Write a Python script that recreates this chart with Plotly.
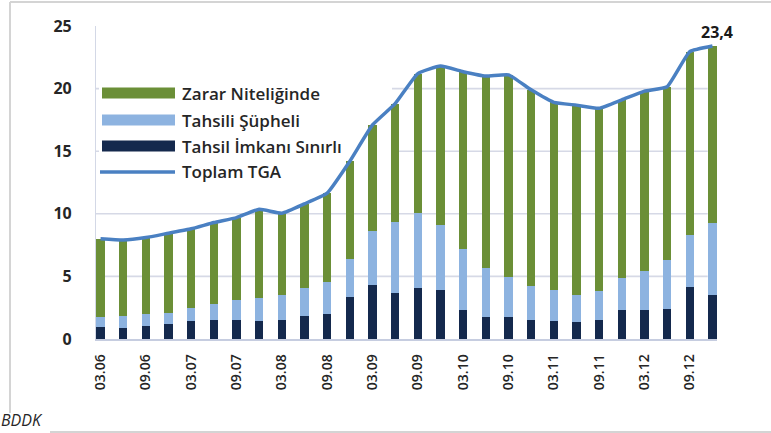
import plotly.graph_objects as go

# Quarters (MM.YY)
quarters = ["03.06", "06.06", "09.06", "12.06", "03.07", "06.07", "09.07", "12.07",
            "03.08", "06.08", "09.08", "12.08", "03.09", "06.09", "09.09", "12.09",
            "03.10", "06.10", "09.10", "12.10", "03.11", "06.11", "09.11", "12.11",
            "03.12", "06.12", "09.12", "12.12"]

# Tahsil İmkanı Sınırlı (dark)
tahsil_imkani = [0.93, 0.85, 1.02, 1.22, 1.41, 1.51, 1.54, 1.41,
                 1.54, 1.80, 2.00, 3.32, 4.30, 3.67, 4.06, 3.93,
                 2.28, 1.75, 1.75, 1.54, 1.41, 1.33, 1.49, 2.34,
                 2.29, 2.42, 4.12, 3.54]
# Tahsili Şüpheli (light blue)
tahsili_supheli = [0.82, 0.95, 0.98, 0.85, 1.03, 1.28, 1.54, 1.86,
                   1.96, 2.26, 2.54, 3.05, 4.33, 5.70, 5.98, 5.18,
                   4.92, 3.95, 3.19, 2.71, 2.47, 2.21, 2.31, 2.53,
                   3.11, 3.86, 4.15, 5.72]
# Zarar Niteliğinde (green)
zarar = [6.25, 6.10, 6.10, 6.38, 6.36, 6.51, 6.62, 7.09,
         6.55, 6.74, 7.11, 7.83, 8.47, 9.43, 11.16, 12.69,
         14.15, 15.30, 16.16, 15.65, 15.02, 15.14, 14.63, 14.23,
         14.40, 13.87, 14.68, 14.14]
# Toplam TGA (line)
toplam = [8.00, 7.90, 8.10, 8.45, 8.80, 9.30, 9.70, 10.36,
          10.05, 10.80, 11.65, 14.20, 17.10, 18.80, 21.20, 21.80,
          21.35, 21.00, 21.10, 19.90, 18.90, 18.68, 18.43, 19.10,
          19.80, 20.15, 22.95, 23.40]

tick_labels = quarters[::2]
y_ticks = [0, 5, 10, 15, 20, 25]
grid_vals = [5, 10, 15, 20]
last_label = "23,4"

C_DARK = "#14294d"
C_LIGHT = "#8db3e0"
C_GREEN = "#6b8f37"
C_LINE = "#4a80c2"
TEXT = "#262626"

idx = list(range(len(quarters)))

fig = go.Figure()
fig.add_trace(go.Bar(x=idx, y=tahsil_imkani, name="Tahsil İmkanı Sınırlı",
                     marker=dict(color=C_DARK, line=dict(width=0)), width=0.36))
fig.add_trace(go.Bar(x=idx, y=tahsili_supheli, name="Tahsili Şüpheli",
                     marker=dict(color=C_LIGHT, line=dict(width=0)), width=0.36))
fig.add_trace(go.Bar(x=idx, y=zarar, name="Zarar Niteliğinde",
                     marker=dict(color=C_GREEN, line=dict(width=0)), width=0.36))
fig.add_trace(go.Scatter(x=idx, y=toplam, name="Toplam TGA", mode="lines",
                         line=dict(color=C_LINE, width=3.5, shape="spline", smoothing=0.4)))

# plot-area pixel geometry helpers (for decorations only)
L, R, T, B = 96, 54, 26, 94
W, H = 771 - L - R, 433 - T - B
def px(x):
    return (x - L) / W
def py(y):
    return (433 - B - y) / H

shapes = []
for g in grid_vals:
    shapes.append(dict(type="line", xref="paper", yref="y", x0=0, x1=0.985, y0=g, y1=g,
                       line=dict(color="#d6d9e6", width=1.6), layer="below"))
# white backdrop for the legend area (hides gridlines, not bars)
shapes.append(dict(type="rect", xref="paper", yref="paper", x0=px(99), x1=px(392),
                   y0=py(182), y1=py(80), fillcolor="white", line=dict(width=0), layer="below"))

# manual legend
legend_items = [("Zarar Niteliğinde", C_GREEN, "bar", 93),
                ("Tahsili Şüpheli", C_LIGHT, "bar", 120),
                ("Tahsil İmkanı Sınırlı", C_DARK, "bar", 146),
                ("Toplam TGA", C_LINE, "line", 172)]
annotations = []
for name, col, kind, yc in legend_items:
    if kind == "bar":
        shapes.append(dict(type="rect", xref="paper", yref="paper", x0=px(102), x1=px(175),
                           y0=py(yc + 5.5), y1=py(yc - 5.5), fillcolor=col,
                           line=dict(width=0), layer="above"))
    else:
        shapes.append(dict(type="line", xref="paper", yref="paper", x0=px(100), x1=px(175),
                           y0=py(yc), y1=py(yc), line=dict(color=col, width=3.5), layer="above"))
    annotations.append(dict(text=name, xref="paper", yref="paper", x=px(180), y=py(yc),
                            xanchor="left", yanchor="middle", showarrow=False,
                            font=dict(family="Open Sans", size=17, color=TEXT, weight=600)))

# frame lines
frame = "#d4d4d4"
shapes.append(dict(type="line", xref="paper", yref="paper", x0=px(10), x1=px(771),
                   y0=py(2), y1=py(2), line=dict(color=frame, width=2), layer="above"))
shapes.append(dict(type="line", xref="paper", yref="paper", x0=px(10), x1=px(10),
                   y0=py(2), y1=py(413), line=dict(color=frame, width=2), layer="above"))
shapes.append(dict(type="line", xref="paper", yref="paper", x0=px(50), x1=px(771),
                   y0=py(432), y1=py(432), line=dict(color=frame, width=2), layer="above"))

annotations.append(dict(text="BDDK", xref="paper", yref="paper", x=px(-1), y=py(433),
                        xanchor="left", yanchor="bottom", showarrow=False,
                        font=dict(family="Open Sans", size=16, color=TEXT, style="italic")))
annotations.append(dict(text=f"<b>{last_label}</b>", x=idx[-1], y=toplam[-1], xref="x", yref="y",
                        xanchor="center", yanchor="bottom", showarrow=False, xshift=5, yshift=1,
                        font=dict(family="Open Sans", size=16, color="#1a1a1a")))

fig.update_layout(
    width=771, height=433,
    margin=dict(l=L, r=R, t=T, b=B, autoexpand=False),
    paper_bgcolor="white", plot_bgcolor="white",
    barmode="stack", showlegend=False,
    shapes=shapes, annotations=annotations,
    xaxis=dict(range=[-0.2, 27.2], tickmode="array", tickvals=idx[::2], ticktext=tick_labels,
               tickangle=-90, showgrid=False, zeroline=False, showline=True,
               linecolor="#c6cde0", linewidth=1.5, automargin=False,
               ticks="", ticklabelstandoff=8,
               tickfont=dict(family="Open Sans", size=14, color=TEXT, weight=600)),
    yaxis=dict(range=[0, 25], tickmode="array", tickvals=y_ticks, showgrid=False,
               zeroline=False, showline=True, linecolor="#d3d8e6", linewidth=1.2,
               ticks="", ticklabelstandoff=20, automargin=False,
               tickfont=dict(family="Open Sans", size=16, color=TEXT, weight=700)),
)

fig.write_html("out.html", config={"displayModeBar": False},
               post_script="document.body.style.margin='0';document.body.style.overflow='hidden';")
